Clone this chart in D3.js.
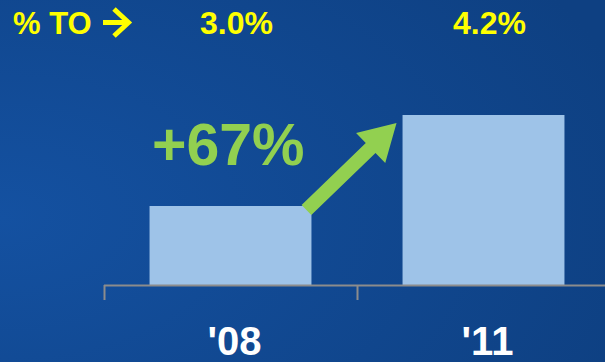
<!DOCTYPE html>
<html><head><meta charset="utf-8">
<script src="https://cdn.jsdelivr.net/npm/d3@7"></script>
<style>html,body{margin:0;padding:0;overflow:hidden;background:#0f4285}</style>
</head><body>
<script>
const categories = ["'08", "'11"];
const values = [79, 170];
const shareLabels = ["3.0%", "4.2%"];
const headerLabel = "% TO";
const growthLabel = "+67%";

const W = 605, H = 362;
const svg = d3.select("body").append("svg").attr("width", W).attr("height", H);
const defs = svg.append("defs");
const grad = defs.append("radialGradient").attr("id", "bg")
  .attr("cx", "0%").attr("cy", "60%").attr("r", "110%");
grad.append("stop").attr("offset", "0%").attr("stop-color", "#1451a1");
grad.append("stop").attr("offset", "100%").attr("stop-color", "#0e4082");
svg.append("rect").attr("width", W).attr("height", H).attr("fill", "url(#bg)");

const x = d3.scaleBand().domain(categories).range([104, 610]).paddingInner(0).paddingOuter(0);
const barW = x.bandwidth() * 0.64;
const y = d3.scaleLinear().domain([0, 200]).range([285, 85]);

// bars
svg.selectAll("rect.bar").data(categories).join("rect").attr("class", "bar")
  .attr("x", d => x(d) + (x.bandwidth() - barW) / 2)
  .attr("width", barW)
  .attr("y", (d, i) => y(values[i]))
  .attr("height", (d, i) => y(0) - y(values[i]))
  .attr("fill", "#9ec3e8");

// axis
const axisColor = "#8c8c8c";
svg.append("line").attr("x1", x.range()[0]).attr("x2", x.range()[1])
  .attr("y1", y(0) + 0.5).attr("y2", y(0) + 0.5)
  .attr("stroke", axisColor).attr("stroke-width", 2);
const tickPos = categories.map(c => x(c)).concat([x.range()[1]]);
svg.selectAll("line.tick").data(tickPos).join("line").attr("class", "tick")
  .attr("x1", d => d + 0.5).attr("x2", d => d + 0.5)
  .attr("y1", y(0)).attr("y2", y(0) + 15)
  .attr("stroke", axisColor).attr("stroke-width", 2);

// category labels
svg.selectAll("text.cat").data(categories).join("text").attr("class", "cat")
  .attr("x", d => x(d) + x.bandwidth() / 2 + 4)
  .attr("y", 355)
  .attr("text-anchor", "middle")
  .attr("font-family", "Liberation Sans, Arial, sans-serif")
  .attr("font-weight", "bold").attr("font-size", 40)
  .attr("fill", "#ffffff")
  .text(d => d);

// top share labels
svg.selectAll("text.share").data(shareLabels).join("text").attr("class", "share")
  .attr("x", (d, i) => x(categories[i]) + x.bandwidth() / 2 + 6)
  .attr("y", 34)
  .attr("text-anchor", "middle")
  .attr("font-family", "Liberation Sans, Arial, sans-serif")
  .attr("font-weight", "bold").attr("font-size", 32)
  .attr("fill", "#ffff00")
  .text(d => d);

svg.append("text").attr("x", 13).attr("y", 34)
  .attr("font-family", "Liberation Sans, Arial, sans-serif")
  .attr("font-weight", "bold").attr("font-size", 31)
  .attr("fill", "#ffff00").text(headerLabel);

// small yellow arrow after header
svg.append("path")
  .attr("d", "M103,22.5 L129,22.5 M114,9 L128.5,22.5 L114,36")
  .attr("fill", "none").attr("stroke", "#ffff00").attr("stroke-width", 5)
  .attr("stroke-linejoin", "miter");

// growth label
svg.append("text").attr("x", 152).attr("y", 165)
  .attr("font-family", "Liberation Sans, Arial, sans-serif")
  .attr("font-weight", "bold").attr("font-size", 59)
  .attr("fill", "#92d050").text(growthLabel);

// big green arrow from bar '08 to bar '11
const sx = x(categories[0]) + (x.bandwidth() + barW) / 2 - 5, sy = y(values[0]) + 4;
const tx = x(categories[1]) + (x.bandwidth() - barW) / 2 - 6, ty = y(values[1]) + 8;
const dx = tx - sx, dy = ty - sy, L = Math.hypot(dx, dy);
const ux = dx / L, uy = dy / L, px = -uy, py = ux;
const sw = 7, hl = 36, hw = 21;
const bx = tx - ux * hl, by = ty - uy * hl;
const pts = [
  [sx + px * sw, sy + py * sw],
  [bx + px * sw, by + py * sw],
  [bx + px * hw, by + py * hw],
  [tx, ty],
  [bx - px * hw, by - py * hw],
  [bx - px * sw, by - py * sw],
  [sx - px * sw, sy - py * sw]
];
svg.append("path").attr("d", d3.line()(pts) + "Z").attr("fill", "#92d050");
</script>
</body></html>
